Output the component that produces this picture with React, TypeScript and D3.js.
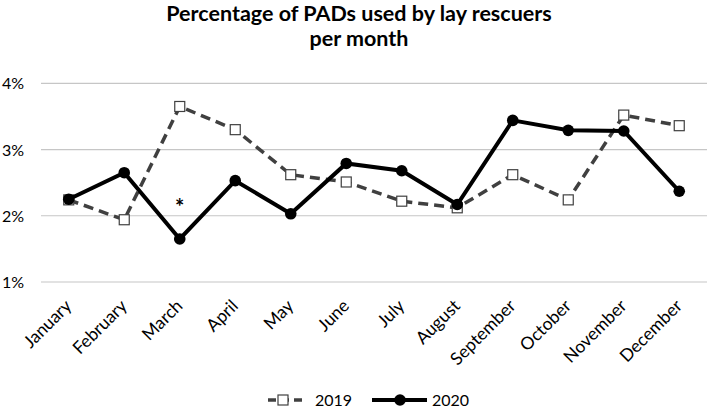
import React from "react";
import * as d3 from "d3";

const months = ["January","February","March","April","May","June","July","August","September","October","November","December"];
const values2019 = [2.24, 1.94, 3.65, 3.30, 2.62, 2.51, 2.22, 2.12, 2.62, 2.24, 3.52, 3.36];
const values2020 = [2.25, 2.65, 1.65, 2.53, 2.03, 2.79, 2.68, 2.17, 3.44, 3.29, 3.28, 2.37];
const yTicks = [1, 2, 3, 4];
const seriesNames = ["2019", "2020"];

const W = 709, H = 408;
const M = { left: 41, right: 2, top: 83.3, bottom: 282 };
const FONT = "Lato, 'Open Sans', sans-serif";

export default function App() {
  const x = d3.scaleBand<string>().domain(months).range([M.left, W - M.right]);
  const y = d3.scaleLinear().domain([1, 4]).range([M.bottom, M.top]);
  const cx = (m: string) => (x(m) as number) + x.bandwidth() / 2;
  const line = d3.line<number>().x((_, i) => cx(months[i])).y((d) => y(d));

  return (
    <svg width={W} height={H} style={{ position: "absolute", left: 0, top: 0, background: "#fff" }}>
      <text x={359} y={21} textAnchor="middle" fontFamily={FONT} fontWeight="bold" fontSize={21.5} fill="#000">
        Percentage of PADs used by lay rescuers
      </text>
      <text x={359} y={46} textAnchor="middle" fontFamily={FONT} fontWeight="bold" fontSize={21.5} fill="#000">
        per month
      </text>
      {yTicks.map((t) => (
        <g key={t}>
          <line x1={M.left} x2={W - M.right} y1={y(t)} y2={y(t)} stroke="#c6c6c6" strokeWidth={1.2} />
          <text x={2} y={y(t) + 6} fontFamily={FONT} fontSize={16} fill="#000">{t}%</text>
        </g>
      ))}
      {months.map((m) => (
        <text key={m} transform={`translate(${cx(m) + 4},${307}) rotate(-45)`} textAnchor="end" fontFamily={FONT} fontSize={17.5} fill="#000">
          {m}
        </text>
      ))}
      <path d={line(values2019) || ""} fill="none" stroke="#404040" strokeWidth={3.5} strokeDasharray="10 6" />
      {values2019.map((v, i) => (
        <rect key={i} x={cx(months[i]) - 5} y={y(v) - 5} width={10} height={10} fill="#fff" stroke="#404040" strokeWidth={1.2} />
      ))}
      <path d={line(values2020) || ""} fill="none" stroke="#000" strokeWidth={4} />
      {values2020.map((v, i) => (
        <circle key={i} cx={cx(months[i])} cy={y(v)} r={5.8} fill="#000" />
      ))}
      <text x={cx("March")} y={y(2) - 1} textAnchor="middle" fontFamily={FONT} fontWeight="bold" fontSize={22} fill="#000">*</text>
      <g>
        <line x1={268} x2={303} y1={400} y2={400} stroke="#404040" strokeWidth={3.5} strokeDasharray="8 5" />
        <rect x={278} y={395} width={10} height={10} fill="#fff" stroke="#404040" strokeWidth={1.2} />
        <text x={315} y={405.5} fontFamily={FONT} fontSize={16} fill="#000">{seriesNames[0]}</text>
        <line x1={372} x2={427} y1={400} y2={400} stroke="#000" strokeWidth={4} />
        <circle cx={400} cy={400} r={5.8} fill="#000" />
        <text x={432} y={405.5} fontFamily={FONT} fontSize={16} fill="#000">{seriesNames[1]}</text>
      </g>
    </svg>
  );
}
